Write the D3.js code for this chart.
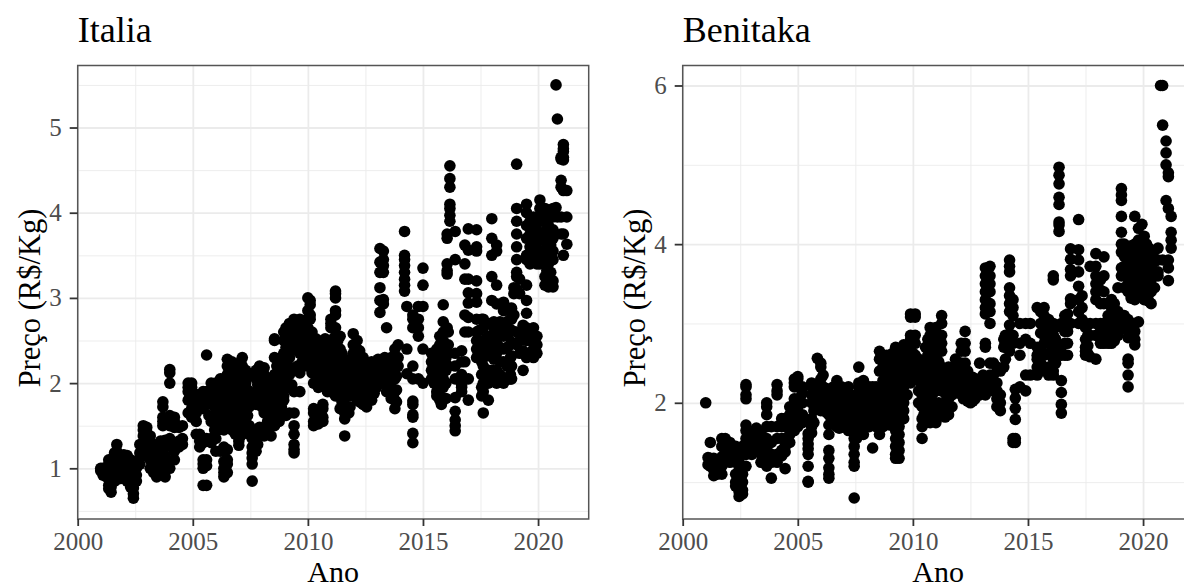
<!DOCTYPE html>
<html><head><meta charset="utf-8">
<script src="https://cdn.jsdelivr.net/npm/d3@7"></script>
<style>html,body{margin:0;padding:0;background:#fff;overflow:hidden}svg{display:block}text{font-family:"Liberation Serif",serif}</style>
</head><body><svg id="c" width="1184" height="587"></svg>
<script>
const xTicks=[2000,2005,2010,2015,2020];
const xMinor=[2002.5,2007.5,2012.5,2017.5];
const italiaYTicks=[1,2,3,4,5];
const italiaYMinor=[0.5,1.5,2.5,3.5,4.5,5.5];
const benitakaYTicks=[2,4,6];
const benitakaYMinor=[1,3,5];
const italiaAnos=[2001,2001.1,2001.25,2001.35,2001.45,2001.6,2001.7,2001.85,2002,2002.15,2002.3,2002.42,2002.55,2002.7,2002.85,2003,2003.15,2003.3,2003.43,2003.6,2003.7,2003.8,2004,2004.2,2004.4,2004.55,2004.8,2004.95,2005.15,2005.3,2005.45,2005.6,2005.8,2006,2006.2,2006.35,2006.5,2006.7,2006.85,2007,2007.15,2007.3,2007.45,2007.58,2007.75,2007.9,2008.1,2008.25,2008.4,2008.55,2008.75,2008.95,2009.2,2009.4,2009.65,2009.85,2010,2010.1,2010.25,2010.45,2010.65,2010.85,2011,2011.2,2011.4,2011.6,2011.78,2011.97,2012.14,2012.4,2012.55,2012.77,2012.98,2013.05,2013.13,2013.28,2013.42,2013.56,2013.78,2013.92,2014.2,2014.3,2014.56,2014.8,2015,2015.37,2015.6,2015.73,2015.88,2016.1,2016.05,2016.17,2016.4,2016.68,2016.82,2016.97,2017.33,2017.55,2017.62,2017.84,2017.99,2018.2,2018.5,2018.8,2018.95,2019.07,2019.2,2019.5,2019.8,2020.08,2020.3,2020.45,2020.65,2020.78,2020.84,2021,2021.1,2021.25,
2005.05,2005.7,2005.95,2006.1,2006.27,2006.6,2006.78,2006.93,2007.08,2007.22,2007.38,2007.82,2008,2008.18,2008.32,2008.48,2008.65,2008.85,2009.05,2009.3,2009.55,2009.75,2009.95,2010.18,2010.35,2010.55,2010.75,2010.95,2011.1,2011.3,2011.48,2011.65,2011.83,2012.05,2012.25,2012.48,2012.65,2012.88,2013.05,2013.34,2013.48,2013.62,2013.85,2015.48,2015.67,2015.8,2016,2017.45,2017.92,2018.08,2018.35,2018.65,2018.85,2019.35,2019.65,2019.95,2020.2,2020.38,2020.55];
const italiaPrecos=[
[1,.97],[.95,.92,1],[.9,.98],[.8,.76,1.05,.95,1.1],[.72,.78,.85,1.1,1],[.85,.92,1,1.1,1.18],[.87,.95,1.05,1.15,1.2,1.28],[.88,.98,1.08,1.1],[.88,.95,1.02,1.1,1.16],[.85,.93,1,1.08,1.15],[.78,.86,.95,1.03,1.1],[.65,.7,.77,.85,.93,1],[.85,.92,1,1.08],[1.05,1.12,1.18,1.28],[1.2,1.3,1.38,1.45,1.5],[1.15,1.25,1.32,1.42,1.48],[1,1.1,1.2,1.3,1.38],[.95,1.03,1.1,1.2,1.28],[.9,.97,1.05,1.15,1.22],[1,1.08,1.15,1.25,1.32],[1.78,1.72,1.6,1.55,1.5],[.9,.98,1.06,1.15,1.25,1.33],[1,1.08,1.28,1.35,1.5,1.55,1.62,2,2.12,2.16],[1.1,1.2,1.3,1.48,1.6,1.55],[1.25,1.32,1.48],[1.28,1.35,1.5],[1.65,1.8,1.9,1.95,2],[1.6,1.7,1.85,1.95,2],[1.4,1.55,1.65,1.75,1.8],[1.25,1.32,1.4,1.7,1.8],[.8,1,1.05,1.1,1.3,1.7,1.9],[.8,1.03,1.1,1.32,1.35,1.75,1.9,2.33],[1.3,1.35,1.55,1.75,1.9,2],[1.2,1.35,1.55,1.7,1.85,2],[1.2,1.5,1.65,1.8,1.95,2.05],[.9,.95,1,1.08,1.2,1.25,1.45,1.6,1.75,1.9,2.05],[.95,1.05,1.1,1.22,1.5,1.65,1.8,1.95,2.1,2.2,2.28],[1.45,1.6,1.75,1.9,2.05,2.15,2.25],[1.4,1.5,1.6,1.7,1.8,1.95,2.1,2.2],[1.27,1.32,1.45,1.6,1.75,1.85,2,2.15],[1.45,1.6,1.75,1.9,2.05,2.2,2.3],[1.55,1.7,1.85,2,2.15],[1.4,1.5,1.72,1.85],[.85,1.05,1.12,1.18,1.25,1.35,1.45],[1.2,1.35,1.45,1.75,1.9,2.05,2.15],[1.4,1.48,1.8,1.95,2.1,2.2],[1.38,1.45,1.65,1.8,1.95,2.1,2.18],[1.55,1.65,1.8,1.95,2.05],[1.38,1.55,1.7,1.85,2],[1.5,1.65,1.8,1.95,2.1,2.3,2.5,2.52],[1.55,1.65,1.85,2,2.15,2.25],[1.8,1.85,1.95,2.1,2.2,2.35,2.5,2.6],[1.65,1.95,2.1,2.3,2.5,2.55,2.7],[1.18,1.22,1.28,1.4,1.5,1.65,1.9,2.4,2.55,2.65,2.75],[1.9,2.12,2.35,2.55,2.75],[2.3,2.4,2.6,2.65],[2.25,2.35,2.5,2.65,2.75,2.85,3],[2.2,2.35,2.5,2.75,2.8,2.92,2.97],[1.5,1.55,1.65,1.7,2,2.3,2.4],[1.52,1.58,1.65,1.95,2.05,2.3,2.5],[1.55,1.6,1.7,1.75,1.98,2.05,2.3,2.45],[1.9,2,2.15,2.3,2.45],[1.9,2,2.2,2.35,2.45,2.65,2.7,2.75],[1.85,1.95,2.05,2.15,2.3,2.45,2.55,2.65,2.8,2.85,3,3.05,3.08],[1.7,1.85,2,2.15,2.3,2.4,2.55],[1.38,1.58,1.65,1.75,1.9,2.05,2.15,2.25],[1.65,1.95,2.05,2.2],[1.95,2.1,2.25,2.35,2.45,2.58],[1.8,1.9,2,2.15,2.3,2.4,2.5],[1.75,1.8,1.88,2,2.1,2.2,2.3],[1.72,1.78,1.85,1.95,2.05,2.15],[1.8,1.95,2.05,2.15,2.25],[1.95,2.05,2.15,2.25],[2,2.1,2.18,2.28],[3.58,3.42,3.3,3.12,2.97,2.83,2.05,2.2],[3.55,3.45,3.38,3.3,2.98,2.93,2.1,2],[2.65,2.05,2.15,1.9],[1.89,2.1,2.2,2],[1.7,1.8,1.9,2.05,2.15,2.25,2.4],[2.2,2.3,2.45],[3.78,3.5,3.45,3.38,3.3,3.22,3.15,3.08],[2.9,2.4,2.11],[2.2,2.05,1.79,1.75,1.63,1.6,1.41,1.3,2.8,2.75,2.65],[2.9,2.75,2.65,2.55,2.05],[3.35,3.15,2.9,2.4,2],[2.05,2.15,2.25,2.35],[1.85,1.9,2,2.1,2.2,2.3,2.4],[1.8,1.85,1.95,2.05,2.2,2.35,2.45,2.55],[2.92,2.72,2.6,2.5,2.35,2.25,2.05,1.95],[2.2,2.35,2.45,2.6],[3.28,3.32,3.4,3.7,3.75,2.65],[4.55,4.4,4.3,4.1,4.05,3.97,3.9],[3.78,3.45,2.35,2.2,2.05,1.83,1.67,1.57,1.5,1.44],[2.38,2.25,2.1,1.95,1.9,1.98],[2.8,2.6,2.25,3.62,3.4,3.22],[1.8,3.81,3.56,3.22,3.06,2.94,2.77,2.6,2.05],[3.8,3.6,3.55,3.2,3.05,2.95,2.75,2.6,2.5,2.4,2.3],[2.75,2.4,2.25,2.1,1.95,1.85],[1.65,1.9,2,2.1,2.2,2.3,2.5,2.65,2.75],[1.8,2,2.15,2.35,2.55,2.7],[3.93,3.7,3.5,3.25,2.97,2.7,2.5,2.35,2.15,2.05],[3.62,3.55,3.15,2.93,2.65,2.5,2.35,2.15,2],[2.95,2.85,2.65,2.55,2.4,2.25,2.05,2],[2.85,2.75,2.6,2.45,2.3,2.1,2.05],[3.12,3.05,2.8],[4.57,4.05,3.9,3.75,3.6,3.45,3.3,3.25,3.1,2.6,2.45],[3.22,3.05,2.6,2.5,2.35],[4.1,4,3.85,3.7,3.5,3.45,3.15,2.97,2.82,2.65,2.5,2.35,2.3],[3.95,3.85,3.7,3.5,2.65,2.5,2.4,2.3],[4.15,4.05,3.9,3.7,3.5,3.4],[4.05,3.9,3.7,3.55,3.4,3.25,3.15],[4,3.85,3.7,3.55,3.4,3.25,3.15,3.13],[4.05,3.95,3.8,3.7,3.55,3.45,3.2,3.13],[5.5,4.06],[5.1,3.95],[4.65,4.63,4.38,4.3,3.95,3.75],[4.8,4.75,4.72,4.65,4.62,4.26,3.75,3.5],[3.95,3.63,4.26],
[1.72,1.88],[1.62,1.82],[1.45,1.62,1.78,1.92],[1.45,1.62,1.78,1.92,2],[1.58,1.72,1.88,2],[1.55,1.72,1.88,2.02,2.18],[1.52,1.68,1.82,1.98,2.12],[1.55,1.68,1.88,2.02],[1.38,1.52,1.68,1.82,1.98,2.12,2.25],[1.52,1.68,1.82,1.98,2.12],[1.62,1.78,1.92,2.08],[1.28,1.4,1.82,1.98,2.12],[1.42,1.72,1.88,2.02,2.15],[1.72,1.88,2.02],[1.48,1.62,1.75,1.88,1.98],[1.6,1.78,1.92],[1.58,1.72,1.88,2.05,2.2],[1.72,1.9,2.05,2.18,2.28],[1.62,2,2.15,2.28,2.42,2.55,2.65],[1.98,2.18,2.38,2.58,2.68],[2.2,2.45,2.6,2.7],[2.25,2.45,2.5],[2.2,2.3,2.45,2.58],[2.12,2.2,2.3,2.45,2.6],[2.15,2.25,2.42,2.52],[2.15,2.22,2.38,2.42],[2.15,2.22,2.38,2.52],[2.08,2.25,2.38],[2.1,2.28,2.42,2.52],[1.9,2.08,2.22,2.38,2.5],[1.78,1.92,2.08,2.22,2.35],[1.72,1.85,1.98,2.12],[1.72,1.85,2,2.12,2.28],[1.85,1.95,2.08,2.22,2.35],[1.78,1.92,2.05,2.25,2.38],[1.92,2.02,2.15,2.25],[1.82,1.92,2.02,2.12,2.22],[1.88,2,2.1,2.2],[2,2.1,2.2],[2.08,2.15,2.3,2.25],[2,2.1,2.2],[1.82,1.95,2.08,2.18,2.3],[1.78,1.92,2.08,2.2,2.3],[2,2.12,2.22,2.32],[1.95,2.08,2.22,2.3],[1.75,1.98,2.12,2.28,2.42],[1.82,2,2.15,2.3,2.42],[2.35,2.48,2.62],[2.7,2.55,2.42,2.32],[2.1,2.28,2.5,2.65,2.72],[2.1,2.25,2.42,2.58,2.72],[2.05,2.2,2.42,2.58,2.72],[2.05,2.2,2.32,2.48,2.62,2.75,2.88],[2.15,2.38,2.52,2.68],[2.35,2.5,2.6,3.9,3.75,3.6,3.4],[3.8,3.65,3.55,3.4,2.55,2.45,2.35],[4,3.9,3.75,3.55,3.45],[4,3.8,3.62,3.48,3.32,3.2],[3.95,3.78,3.62,3.45,3.3,3.18],[4.1,3.9,3.75,3.62,3.48,3.3]
];
const benitakaAnos=[2001,2001.1,2001.2,2001.35,2001.5,2001.7,2001.85,2002.05,2002.3,2002.45,2002.6,2002.75,2003,2003.2,2003.4,2003.65,2003.85,2004.1,2004.3,2004.45,2004.65,2004.85,2005,2005.2,2005.45,2005.6,2005.85,2006,2006.35,2006.55,2006.7,2006.9,2007.2,2007.45,2007.65,2007.85,2008.1,2008.25,2008.55,2008.85,2009.1,2009.25,2009.4,2009.6,2009.9,2010.1,2010.4,2010.55,2010.75,2011,2011.25,2011.55,2011.85,2012.1,2012.27,2012.5,2012.7,2012.9,2013.15,2013.35,2013.65,2013.8,2013.95,2014.2,2014.35,2014.45,2014.65,2014.9,2015.1,2015.4,2015.7,2016.1,2016.35,2016.45,2016.6,2016.85,2017.2,2017.5,2017.7,2017.95,2018.3,2018.63,2018.91,2019.06,2019.35,2019.64,2019.95,2020.15,2020.35,2020.65,2020.76,2020.85,2021,2021.1,2021.22,
2005.7,2006.1,2006.25,2006.45,2006.62,2006.8,2007.05,2007.3,2007.55,2007.75,2007.98,2008.18,2008.4,2008.7,2008.98,2009.18,2009.5,2009.75,2010.02,2010.25,2010.48,2010.65,2010.88,2011.12,2011.4,2011.7,2011.98,2012.2,2012.38,2012.6,2012.82,2013.05,2013.5,2014.02,2015.55,2015.9,2016.2,2016.72,2017.35,2017.6,2018.15,2018.48,2018.75,2019.18,2019.48,2019.8,2020.05,2020.25,2020.5];
const benitakaPrecos=[
[2],[1.31,1.22],[1.5,1.3,1.2],[1.08,1.15,1.25,1.3],[1.1,1.2,1.28],[1.1,1.2,1.32,1.45,1.55],[1.3,1.38,1.45,1.55],[1.25,1.35,1.45,1.5],[.95,1,1.1,1.25,1.35,1.45],[.82,.88,.93,1,1.08,1.15,1.25,1.35,1.42],[.85,.9,1,1.1,1.2,1.35,1.45],[1.2,1.35,1.55,1.65,1.72,2.05,2.1,2.2,2.23],[1.35,1.45,1.52,1.6],[1.4,1.5,1.6,1.68],[1.25,1.35,1.45,1.55,1.62],[1.2,1.3,1.42,1.55,1.7,1.85,1.95,2],[1.05,1.25,1.35,1.5,1.7],[1.25,1.35,1.55,1.7,2.1,2.15,2.23],[1.33,1.4,1.55,1.7,1.8],[1.17,1.38,1.45,1.55,1.7,1.8],[1.5,1.6,1.7,1.85,1.95],[1.65,1.75,1.9,2.05,2.2,2.25,2.3],[1.7,1.8,1.95,2.05,2.2,2.3,2.33],[1.75,1.85,2,2.12,2.2],[1,1.01,1.2,1.35,1.42,1.48,1.55,1.61],[1.62,1.7,1.8,2,2.1,2.2,2.25],[1.95,2,2.12,2.2,2.56],[1.9,2,2.1,2.3,2.45,2.5],[1.05,1.1,1.18,1.3,1.4,1.6,1.72,1.85,2,2.15],[1.75,1.85,1.95,2.05,2.15,2.2],[1.7,1.8,1.9,2,2.1,2.2,2.28],[1.7,1.85,2,2.15,2.2],[1.65,1.8,1.95,2.08,2.2],[.8,1.2,1.25,1.35,1.45,1.55,1.65,1.8,1.95,2.05],[1.6,1.7,1.85,2,2.2,2.25,2.45],[1.6,1.7,1.85,2,2.15,2.28],[1.7,1.85,1.95,2.1,2.2],[1.43,1.75,1.9,2.05,2.2],[1.6,1.75,1.9,2.1,2.4,2.55,2.65],[1.75,1.9,2.05,2.2,2.35,2.5,2.6],[1.75,1.9,2.1,2.25,2.4,2.55,2.62],[1.3,1.35,1.45,1.55,1.65,1.8,1.95,2.15,2.3,2.5,2.7],[1.3,1.4,1.5,1.6,1.7,1.8,2,2.2,2.4,2.6,2.65],[1.8,1.9,2,2.2,2.4,2.6,2.73],[2.25,2.4,2.55,2.7,2.8,2.85,3.12,3.08],[3.12,3.08,2.85,2.75,2.6,2.45,2.3],[1.55,1.7,1.8,1.95,2.1,2.2,2.35,2.5],[1.75,1.85,2,2.15,2.3,2.5,2.7],[2.95,2.85,2.7,2.55,2.35,2.2,2.05,1.85,1.75],[1.75,1.85,1.95,2.15,2.3,2.45,2.6,2.75,2.95],[3.1,3,2.85,2.75,2.65,2.45,2.3,2.15,1.85,1.95],[1.85,1.95,2.05,2.2,2.35,2.45],[2.2,2.3,2.4,2.45,2.55],[2.3,2.4,2.5,2.65,2.75],[2.9,2.75,2.65,2.5],[2,2.05,2.15,2.3],[2.05,2.15,2.25,2.3],[2.1,2.2,2.3,2.5],[3.7,3.6,3.5,3.4,3.3,3.2,3.12,2.75,2.7,2.3,2.2,2.1],[3.72,3.6,3.5,3.4,3.25,3.15,3,2.5,2.35,2.2],[2.45,2.25,2.15,2.05,1.95],[1.9,2,2.1,2.4],[2.8,2.7,2.45],[3.8,3.72,3.65,3.45,3.35,3.25,3.15,2.98,2.85,2.65],[3.3,3.2,3.1,2.85,2.75,1.55,1.5],[2.06,1.93,1.79,2.17,1.55,1.5],[2.6,2.75,3,2.2],[3,2.8,2.15,2.35],[3,2.75,2.35],[3.2,2.7,2.6,2.55,2.45,2.35],[3.2,3.1,3,2.85,2.75,2.6,2.45],[3.55,3.6,3,2.85,2.7,2.55,2.4,2.35],[4.97,4.87,4.76,4.59,4.5,4.28,4.24,4.16],[2.28,2.13,1.98,1.87,2.6,2.7,3],[2.6,2.75,2.9,3,3.1],[3.94,3.81,3.68,3.6,3.31,3.25,3],[4.31,3.93,3.8,3.65,3.47,3.3,3.15,3],[3,2.95,2.8,2.7,2.65,2.6],[2.58,3.72,3,2.85],[3.88,3.72,3.6,3.5,3.4,3.3,3,2.85,2.55],[3.84,3.6,3.4,3.25,3,2.9,2.8,2.75],[3.3,3.2,3.1,3,2.9,2.8,2.75],[3.45,3.15,3.05,2.95,2.85],[4.7,4.62,4.55,4.35,4.15,4,3.9,3.7,3.6,3.1,2.95],[2.82,2.55,2.5,2.35,2.2,3.5,3.9,3.8,3.7,3.6,3.4,3.05,2.9],[4.35,4,3.9,3.8,3.7,3.55,3.4,3.3,3,2.9,2.8,2.73],[4.25,4.05,3.95,3.8,3.7,3.6,3.5,3.4],[4,3.85,3.7,3.6,3.45,3.4,3.3],[3.25,3.4,3.55,3.75,3.9],[3.95,3.8,3.65,3.6],[6],[6,5.5,3.8],[5.3,5.15,5,4.55],[4.9,4.85,4.45,3.8,3.7,3.54],[4.35,4.15,4.05,3.95],
[1.75,1.9,2.05],[1.92,2.05,2.2,2.35],[1.88,2.05,2.18],[1.8,1.9,2,2.1],[1.72,1.82,1.92,2.02,2.12,2.18],[1.68,1.78,1.88,1.98,2.08,2.18],[1.7,1.82,1.92,2.02,2.12],[1.72,1.85,1.98,2.1],[1.55,1.72,1.88,1.98,2.1],[1.65,1.78,1.92,2.05,2.15,2.22],[1.72,1.82,1.92,2.02,2.12,2.2],[1.78,1.88,2,2.15],[1.7,1.82,1.98,2.1,2.2],[1.7,1.85,1.98,2.12,2.28,2.45],[1.72,1.85,1.98,2.15,2.3,2.45,2.58],[1.85,2.02,2.18,2.32,2.48],[1.9,2.1,2.3,2.5,2.62],[2.1,2.3,2.5,2.65,2.72],[2.35,2.5,2.62,2.78],[2,2.15,2.28,2.42,2.55],[1.85,2,2.18,2.3,2.42],[1.8,1.95,2.1,2.25,2.42,2.6,2.8],[1.8,2,2.12,2.28,2.42,2.62,2.8],[1.85,2,2.2,2.38,2.52,2.68,2.85],[1.82,1.9,2,2.12,2.28,2.4],[1.95,2.1,2.2,2.32],[2.12,2.25,2.35,2.48],[2.05,2.18,2.32,2.42],[2.02,2.12,2.22,2.4],[2.02,2.12,2.2,2.32],[2.1,2.2,2.28],[2.12,2.22,2.35],[2.15,2.25,2.35,2.5],[2.85,2.75,2.55],[3.15,3,2.88,2.7,2.5,2.4,2.65],[3.05,2.9,2.75,2.62,2.45,2.35],[2.95,2.8,2.65,2.5],[2.6,2.75,2.9,3.02,3.12],[3.35,3.2,3.05,3],[2.98,2.85,2.72,2.62],[3.55,3.42,3.25,3,2.9,2.75],[3.25,3.1,2.98,2.85,2.75],[3.25,3.12,3,2.9,2.78],[4,3.85,3.72,3.65,3.1,2.95,3.45],[3.98,3.85,3.75,3.62,3.48,3.32,3,2.88],[4.2,4.05,3.85,3.72,3.58,3.45,3.35,3.02],[4.1,3.92,3.78,3.65,3.5,3.38,3.3],[3.95,3.8,3.65,3.48,3.38,3.28],[3.92,3.78,3.62,3.45]
];

const W=511, panelTop=65.5, panelBottom=519;
const svg=d3.select("#c");
function flat(anos,precos){return anos.flatMap((a,i)=>precos[i].map(p=>({a,p})));}
function panel(cfg){
  const x=d3.scaleLinear().domain([2000,2022.2]).range([cfg.left,cfg.left+W]);
  const y=d3.scaleLinear().domain(cfg.yDomain).range([panelBottom,panelTop]);
  const g=svg.append("g");
  const grid=(sel,ax)=>{sel.call(ax);sel.select(".domain").remove();sel.selectAll("text").remove();};
  g.append("g").attr("transform",`translate(0,${panelBottom})`).call(s=>grid(s,d3.axisBottom(x).tickValues(xMinor).tickSize(-(panelBottom-panelTop)))).selectAll("line").attr("stroke","#ebebeb").attr("stroke-width",.9);
  g.append("g").attr("transform",`translate(${cfg.left},0)`).call(s=>grid(s,d3.axisLeft(y).tickValues(cfg.yMinor).tickSize(-W))).selectAll("line").attr("stroke","#ebebeb").attr("stroke-width",.9);
  g.append("g").attr("transform",`translate(0,${panelBottom})`).call(s=>grid(s,d3.axisBottom(x).tickValues(xTicks).tickSize(-(panelBottom-panelTop)))).selectAll("line").attr("stroke","#ebebeb").attr("stroke-width",1.8);
  g.append("g").attr("transform",`translate(${cfg.left},0)`).call(s=>grid(s,d3.axisLeft(y).tickValues(cfg.yTicks).tickSize(-W))).selectAll("line").attr("stroke","#ebebeb").attr("stroke-width",1.8);
  g.append("g").selectAll("circle").data(flat(cfg.anos,cfg.precos)).join("circle")
    .attr("cx",d=>x(d.a)).attr("cy",d=>y(d.p)).attr("r",5.8).attr("fill","#000");
  g.append("rect").attr("x",cfg.left).attr("y",panelTop).attr("width",W).attr("height",panelBottom-panelTop).attr("fill","none").attr("stroke","#555").attr("stroke-width",1.5);
  const ax=g.append("g").attr("class","ax").attr("transform",`translate(0,${panelBottom})`).call(d3.axisBottom(x).tickValues(xTicks).tickSize(7).tickPadding(6).tickFormat(d3.format("d")));
  ax.select(".domain").remove();
  const ay=g.append("g").attr("class","ax").attr("transform",`translate(${cfg.left},0)`).call(d3.axisLeft(y).tickValues(cfg.yTicks).tickSize(8).tickPadding(8).tickFormat(d3.format("d")));
  ay.select(".domain").remove();
  g.selectAll(".ax .tick text").attr("fill","#4d4d4d").style("font-size","25px").style("font-family","Liberation Serif");
  g.selectAll(".ax .tick line").attr("stroke","#333").attr("stroke-width",1.8);
  g.append("text").attr("x",cfg.left).attr("y",42).attr("font-size",36).attr("fill","#000").text(cfg.title);
  g.append("text").attr("x",cfg.left+255.5).attr("y",582).attr("text-anchor","middle").attr("font-size",30).attr("fill","#000").text("Ano");
  g.append("text").attr("transform",`translate(${cfg.left-37.5},298) rotate(-90)`).attr("text-anchor","middle").attr("font-size",30.5).attr("fill","#000").text("Preço (R$/Kg)");
}
panel({left:77.7,title:"Italia",yDomain:[.405,5.728],yTicks:italiaYTicks,yMinor:italiaYMinor,anos:italiaAnos,precos:italiaPrecos});
panel({left:682.7,title:"Benitaka",yDomain:[.535,6.252],yTicks:benitakaYTicks,yMinor:benitakaYMinor,anos:benitakaAnos,precos:benitakaPrecos});
</script></body></html>
